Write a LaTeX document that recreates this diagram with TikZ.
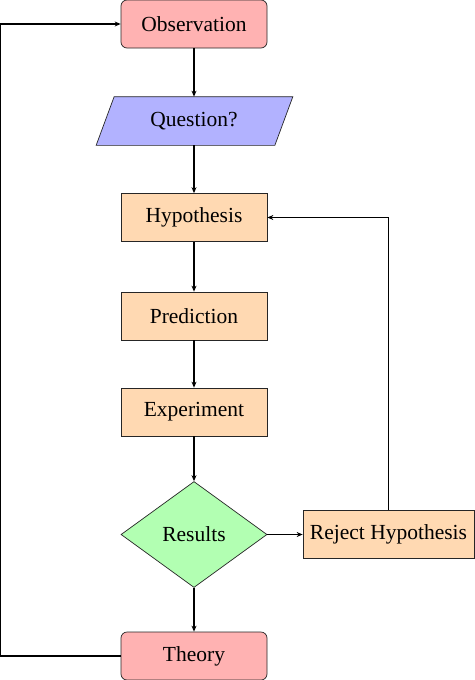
\documentclass[tikz,border=0pt]{standalone}
\usepackage{fontspec}
\setmainfont{Liberation Serif}
\usetikzlibrary{shapes.geometric,arrows.meta,backgrounds,calc}
\begin{document}
\begin{tikzpicture}[x=1pt,y=-1pt,
  font=\fontsize{21.5}{26}\selectfont,
  box/.style={draw=black!85, line width=0.7pt, minimum width=146pt, minimum height=48pt, inner sep=0pt},
  term/.style={box, rounded corners=6pt, fill=red!30},
  proc/.style={box, fill=orange!30},
  dec/.style={diamond, draw=black!85, line width=0.7pt, fill=green!30, aspect=1.377, minimum width=146pt, minimum height=106pt, inner sep=0pt},
  qshape/.style={draw=black!85, line width=0.7pt, fill=blue!30},
  conn/.style={line width=1.1pt, -{Stealth[length=6pt,width=5pt]}},
]
\useasboundingbox (0,0) rectangle (474,680);

\node[term] (obs) at (194,24) {Observation};
\node[box, draw=none, minimum width=178pt] (q) at (194,121) {Question?};
\begin{scope}[on background layer]
  \draw[qshape] ([xshift=-8.5pt]q.south west) -- ([xshift=9.5pt]q.north west) -- ([xshift=9.5pt]q.north east) -- ([xshift=-8.5pt]q.south east) -- cycle;
\end{scope}
\node[proc] (hyp) at (194,217.5) {Hypothesis};
\node[proc] (pred) at (194,316) {Prediction};
\node[proc] (exp) at (194,412) {Experiment};
\node[dec] (res) at (194,534.5) {Results};
\node[proc, minimum width=171pt] (rej) at (388.5,534.5) {Reject Hypothesis};
\node[term] (th) at (194,656) {Theory};

\coordinate (bl) at (0.2,656);
\coordinate (tl) at (0.2,24);

\draw[conn] (obs.south) -- (q.north);
\draw[conn] (q.south) -- (hyp.north);
\draw[conn] (hyp.south) -- (pred.north);
\draw[conn] (pred.south) -- (exp.north);
\draw[conn] (exp.south) -- (res.north);
\draw[conn] (res.south) -- (th.north);
\draw[conn] (res.east) -- (rej.west);
\draw[conn] (rej.north) |- (hyp.east);
\draw[conn] (th.west) -- (bl) -- (tl) -- (obs.west);
\end{tikzpicture}
\end{document}
